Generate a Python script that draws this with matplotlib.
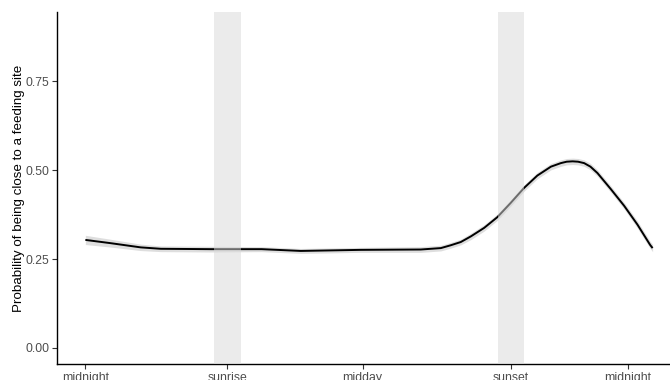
import matplotlib
matplotlib.use("Agg")
import matplotlib.pyplot as plt
import numpy as np

plt.rcParams["font.family"] = ["Liberation Sans", "DejaVu Sans"]

# Time of day (hours since midnight) and fitted probability
hours = [0.0, 1.1, 2.45, 3.34, 5.56, 7.8, 9.53, 12.18, 14.84, 15.73, 16.17,
         16.61, 17.06, 17.65, 18.23, 18.82, 19.41, 20.0, 20.6, 21.04, 21.3,
         21.56, 21.8, 22.07, 22.35, 22.66, 23.25, 23.84, 24.43, 24.99, 25.1]
prob = [0.304, 0.295, 0.283, 0.279, 0.278, 0.278, 0.273, 0.276, 0.277, 0.281,
        0.289, 0.298, 0.314, 0.338, 0.368, 0.408, 0.450, 0.485, 0.510, 0.520,
        0.524, 0.525, 0.524, 0.520, 0.510, 0.492, 0.447, 0.400, 0.347, 0.290,
        0.281]
# Half-width of the confidence ribbon
half_ci = [0.013, 0.011, 0.009, 0.008, 0.008, 0.007, 0.007, 0.007, 0.008, 0.008,
           0.008, 0.008, 0.009, 0.009, 0.009, 0.009, 0.009, 0.009, 0.009, 0.009,
           0.009, 0.009, 0.009, 0.009, 0.009, 0.009, 0.009, 0.009, 0.010, 0.010,
           0.010]

# Twilight windows
sunrise_window = (5.68, 6.88)
sunset_window = (18.25, 19.4)

tick_pos = [0.0, 6.28, 12.27, 18.82, 24.0]
tick_labels = ["midnight", "sunrise", "midday", "sunset", "midnight"]
y_ticks = [0.0, 0.25, 0.5, 0.75]

fig = plt.figure(figsize=(6.7, 3.8), dpi=100)
ax = fig.add_axes([57 / 670, 16 / 380, 613 / 670, 352 / 380])

h = np.array(hours)
p = np.array(prob)
ci = np.array(half_ci)
ax.fill_between(h, p - ci, p + ci, color="#dedede", lw=0, zorder=1)
ax.plot(h, p, color="black", lw=1.4, zorder=2, solid_capstyle="butt",
        solid_joinstyle="round")

for lo, hi in (sunrise_window, sunset_window):
    ax.axvspan(lo, hi, color="#d9d9d9", alpha=0.5, lw=0, zorder=3)

ax.set_xlim(-1.255, 25.87)
ax.set_ylim(-0.045, 0.945)

ax.set_xticks(tick_pos)
ax.set_xticklabels(tick_labels)
ax.set_yticks(y_ticks)
ax.set_yticklabels([f"{v:.2f}" for v in y_ticks])
ax.tick_params(axis="both", labelsize=8.8, labelcolor="#4d4d4d", color="#333333",
               length=3.5, width=0.8, pad=2)

ax.set_ylabel("Probability of being close to a feeding site", fontsize=9.6,
              color="black", labelpad=0.5)

for side in ("top", "right"):
    ax.spines[side].set_visible(False)
for side in ("left", "bottom"):
    ax.spines[side].set_linewidth(1.0)
    ax.spines[side].set_color("black")

fig.savefig("out.png", dpi=100)
